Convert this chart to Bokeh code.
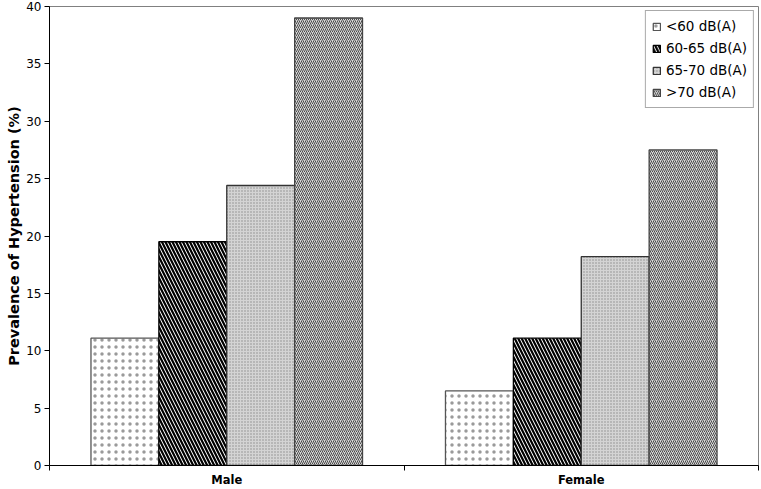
from bokeh.plotting import figure
from bokeh.models import FixedTicker, Range1d, Legend, LegendItem
from bokeh.embed import file_html
from bokeh.resources import INLINE

groups = ["Male", "Female"]
levels = ["<60 dB(A)", "60-65 dB(A)", "65-70 dB(A)", ">70 dB(A)"]
male = [11.1, 19.5, 24.4, 39.0]
female = [6.5, 11.1, 18.2, 27.5]
y_ticks = [0, 5, 10, 15, 20, 25, 30, 35, 40]

styles = [
    dict(fill_color="white", hatch_pattern="dot", hatch_color="#9a9a9a", hatch_scale=7, hatch_weight=0.7, line_color="#555555"),
    dict(fill_color="white", hatch_pattern="left_diagonal_line", hatch_color="black", hatch_scale=7, hatch_weight=2.2, line_color="black"),
    dict(fill_color="#d4d4d4", hatch_pattern="dot", hatch_color="#8c8c8c", hatch_scale=3, hatch_weight=1.2, line_color="#333333"),
    dict(fill_color="#d8d8d8", hatch_pattern="right_diagonal_line", hatch_color="#4a4a4a", hatch_scale=4, hatch_weight=1.0, line_color="#444444"),
]

FONT = "DejaVu Sans"

p = figure(width=761, height=489, output_backend="svg", toolbar_location=None,
           x_range=Range1d(0, 2), y_range=Range1d(0, 40),
           min_border_left=49, min_border_right=3, min_border_top=6, min_border_bottom=23)
p.background_fill_color = "white"
p.border_fill_color = "white"
p.outline_line_color = "#808080"
p.outline_line_width = 1
p.xgrid.visible = False
p.ygrid.visible = False

bw = 0.1915
items = []
for k, lev in enumerate(levels):
    off = (k - 1.5) * bw
    xs = [i + 0.5 + off for i in range(len(groups))]
    tops = [male[k], female[k]]
    r = p.vbar(x=xs, top=tops, width=bw, bottom=0, line_width=1.3, **styles[k])
    items.append(LegendItem(label=lev, renderers=[r]))

legend = Legend(items=items, location="top_right")
legend.margin = 4
legend.padding = 6
legend.spacing = 4
legend.glyph_width = 9
legend.glyph_height = 9
legend.label_standoff = 5
legend.label_height = 18
legend.label_text_font = FONT
legend.label_text_font_size = "13.5px"
legend.label_text_color = "black"
legend.border_line_color = "#555555"
legend.border_line_width = 1
legend.background_fill_alpha = 1
p.add_layout(legend)

# y axis
ya = p.yaxis[0]
ya.ticker = FixedTicker(ticks=y_ticks)
ya.axis_label = "Prevalence of Hypertension (%)"
ya.axis_label_text_font = FONT
ya.axis_label_text_font_style = "bold"
ya.axis_label_text_font_size = "14.5px"
ya.axis_label_text_color = "black"
ya.axis_label_standoff = 1
ya.major_label_text_font = FONT
ya.major_label_text_font_size = "12px"
ya.major_label_text_color = "black"
ya.major_label_standoff = 3
ya.major_tick_out = 5
ya.major_tick_in = 0
ya.minor_tick_line_color = None
ya.axis_line_color = "black"
ya.major_tick_line_color = "black"

# x axis
xa = p.xaxis[0]
xa.ticker = FixedTicker(ticks=[i + 0.5 for i in range(len(groups))],
                        minor_ticks=[i for i in range(len(groups) + 1)])
xa.major_label_overrides = {i + 0.5: g for i, g in enumerate(groups)}
xa.major_label_text_font = FONT
xa.major_label_text_font_style = "bold"
xa.major_label_text_font_size = "11.5px"
xa.major_label_text_color = "black"
xa.major_label_standoff = 2
xa.major_tick_out = 0
xa.major_tick_in = 0
xa.major_tick_line_color = None
xa.minor_tick_out = 5
xa.minor_tick_in = 0
xa.minor_tick_line_color = "black"
xa.axis_line_color = "black"

open("out.html", "w").write(file_html(p, INLINE))
